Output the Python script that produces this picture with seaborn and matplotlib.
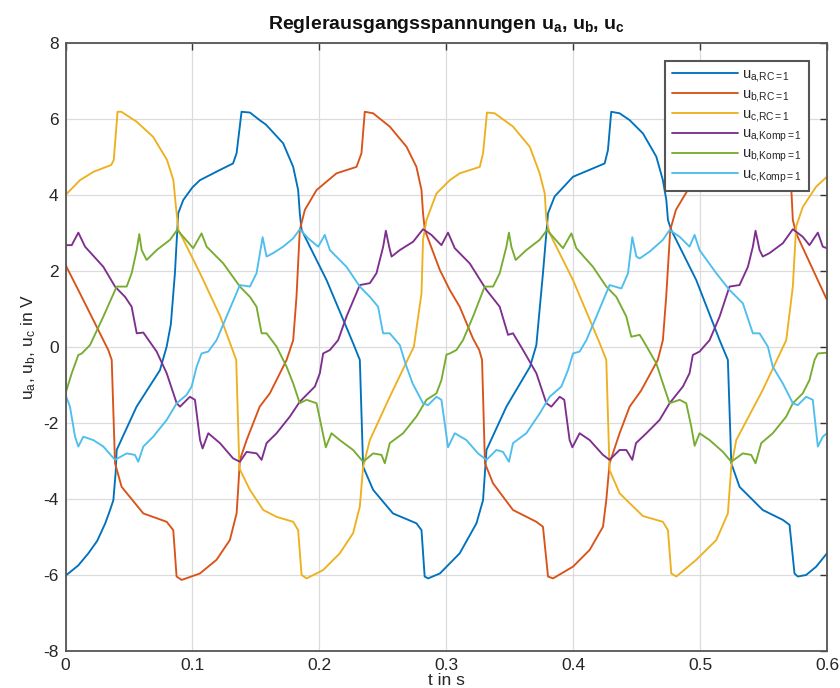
import numpy as np
import pandas as pd
import matplotlib
matplotlib.use("Agg")
import matplotlib.pyplot as plt
import seaborn as sns

# ---------------- data ----------------
t_ua_rc = [0.0, 0.01, 0.018, 0.025, 0.0313, 0.035, 0.0377, 0.0395, 0.0403, 0.048, 0.056, 0.065, 0.0744,
           0.0797, 0.083, 0.0862, 0.0888, 0.0928, 0.1, 0.1059, 0.1217, 0.132, 0.1348, 0.1387, 0.1453, 0.153,
           0.158, 0.1715, 0.1794, 0.1833, 0.1846, 0.186, 0.2057, 0.2266, 0.2319, 0.2345, 0.2424, 0.258,
           0.2765, 0.2805, 0.283, 0.2857, 0.295, 0.3106, 0.3238, 0.329, 0.3317, 0.3474, 0.366, 0.371, 0.3762,
           0.3802, 0.3854, 0.3999, 0.4156, 0.4248, 0.4274, 0.43, 0.4366, 0.4445, 0.455, 0.4655, 0.4707,
           0.4734, 0.4747, 0.4773, 0.497, 0.5154, 0.5219, 0.5246, 0.5311, 0.5494, 0.5652, 0.5705, 0.5744,
           0.577, 0.5836, 0.5915, 0.6]
u_ua_rc = [-6.02, -5.75, -5.43, -5.1, -4.64, -4.3, -4.03, -3.3, -2.71, -2.15, -1.57, -1.1, -0.61,
           0.01, 0.6, 1.94, 3.52, 3.87, 4.2, 4.39, 4.66, 4.83, 5.1, 6.19, 6.17, 5.97,
           5.85, 5.36, 4.74, 4.13, 3.52, 3.08, 1.76, 0.1, -0.34, -3.15, -3.76, -4.38,
           -4.64, -4.82, -6.04, -6.09, -5.96, -5.43, -4.64, -4.03, -2.71, -1.57, -0.52, 0.05, 1.94,
           3.52, 3.96, 4.48, 4.7, 4.83, 5.18, 6.19, 6.15, 5.97, 5.62, 5.01, 4.39,
           3.87, 3.34, 3.08, 1.76, 0.18, -0.34, -3.06, -3.68, -4.29, -4.55, -4.68, -5.96,
           -6.04, -6.0, -5.78, -5.43]

t_ub_rc = [0.0, 0.0114, 0.0219, 0.0298, 0.0337, 0.0364, 0.039, 0.0442, 0.0613, 0.0797, 0.0849, 0.0875,
           0.0915, 0.1059, 0.119, 0.1295, 0.1348, 0.136, 0.1374, 0.1427, 0.153, 0.161, 0.1742, 0.1794,
           0.182, 0.1846, 0.1886, 0.1978, 0.2135, 0.2293, 0.2332, 0.2358, 0.2424, 0.2555, 0.2687, 0.2765,
           0.2805, 0.2817, 0.2831, 0.2949, 0.3028, 0.3106, 0.3211, 0.326, 0.3282, 0.3305, 0.3369, 0.3526,
           0.371, 0.3762, 0.3802, 0.3841, 0.3999, 0.413, 0.4235, 0.4261, 0.4287, 0.4366, 0.4445, 0.4535,
           0.4667, 0.4707, 0.4733, 0.4765, 0.481, 0.4903, 0.506, 0.5218, 0.5257, 0.5283, 0.535, 0.548,
           0.5612, 0.569, 0.5718, 0.5731, 0.5757, 0.5915, 0.6]
u_ub_rc = [2.16, 1.41, 0.71, 0.18, -0.08, -0.34, -3.06, -3.68, -4.38, -4.6, -4.82, -6.04,
           -6.13, -5.96, -5.6, -5.08, -4.38, -3.76, -2.97, -2.45, -1.57, -1.22, -0.34, 0.18,
           1.32, 3.08, 3.61, 4.13, 4.57, 4.74, 5.1, 6.19, 6.15, 5.8, 5.27, 4.74,
           4.13, 3.52, 3.08, 2.03, 1.5, 1.06, 0.22, -0.08, -0.34, -3.06, -3.59, -4.29,
           -4.6, -4.73, -6.04, -6.09, -5.78, -5.34, -4.73, -4.03, -3.06, -2.27, -1.57, -1.15,
           -0.34, 0.18, 1.32, 3.08, 3.61, 4.13, 4.57, 4.74, 5.1, 6.19, 6.15, 5.8,
           5.27, 4.74, 4.22, 3.34, 2.99, 1.85, 1.24]

t_uc_rc = [0.0, 0.0114, 0.022, 0.036, 0.038, 0.041, 0.044, 0.056, 0.069, 0.08, 0.085, 0.087, 0.089,
           0.106, 0.122, 0.128, 0.1345, 0.137, 0.1453, 0.1558, 0.1663, 0.1794, 0.1833, 0.186, 0.1899,
           0.203, 0.2161, 0.2266, 0.2319, 0.2345, 0.2398, 0.2555, 0.2745, 0.2805, 0.2817, 0.2844, 0.2923,
           0.3028, 0.3106, 0.3264, 0.329, 0.3321, 0.3382, 0.3526, 0.3658, 0.3736, 0.3776, 0.3789, 0.3815,
           0.3999, 0.4209, 0.4261, 0.4287, 0.4366, 0.4445, 0.455, 0.4707, 0.4747, 0.4773, 0.4813, 0.497,
           0.5128, 0.5219, 0.5246, 0.5285, 0.5494, 0.5679, 0.5731, 0.5757, 0.581, 0.5915, 0.6]
u_uc_rc = [4.0, 4.39, 4.61, 4.79, 4.92, 6.19, 6.19, 5.93, 5.53, 4.92, 4.39, 3.69, 3.08,
           1.94, 0.8, 0.25, -0.34, -3.2, -3.76, -4.29, -4.47, -4.6, -4.82, -6.0, -6.09,
           -5.87, -5.43, -4.9, -4.2, -3.15, -2.45, -1.31, 0.01, 1.41, 2.82, 3.34, 4.04,
           4.39, 4.57, 4.74, 5.1, 6.17, 6.15, 5.8, 5.27, 4.57, 4.04, 3.34, 2.99,
           1.76, 0.1, -0.34, -3.24, -3.85, -4.11, -4.45, -4.6, -4.82, -5.96, -6.04, -5.6,
           -5.08, -4.38, -3.15, -2.45, -1.13, 0.18, 1.59, 3.17, 3.69, 4.22, 4.48]

t_ua_k = [0.0, 0.0049, 0.0101, 0.0154, 0.0298, 0.039, 0.0469, 0.0521, 0.0561, 0.0613, 0.0718, 0.0797,
          0.0876, 0.0902, 0.098, 0.102, 0.106, 0.108, 0.1125, 0.1217, 0.132, 0.1374, 0.1427, 0.1506,
          0.1545, 0.1584, 0.1663, 0.1768, 0.1846, 0.1965, 0.2004, 0.203, 0.2083, 0.2148, 0.2214, 0.2319,
          0.2398, 0.245, 0.2503, 0.2524, 0.255, 0.2569, 0.2634, 0.2739, 0.2817, 0.2883, 0.2962, 0.3014,
          0.3067, 0.3185, 0.3317, 0.3421, 0.3487, 0.3526, 0.3605, 0.371, 0.3789, 0.3828, 0.3894, 0.393,
          0.3972, 0.3994, 0.4051, 0.413, 0.4235, 0.4287, 0.4366, 0.4419, 0.4466, 0.4495, 0.4577, 0.4681,
          0.476, 0.4865, 0.4917, 0.4943, 0.4996, 0.5075, 0.5154, 0.5232, 0.5311, 0.5377, 0.5416, 0.5437,
          0.5469, 0.5494, 0.5547, 0.5652, 0.5731, 0.5809, 0.5862, 0.5928, 0.5967, 0.6]
u_ua_k = [2.68, 2.68, 3.01, 2.64, 2.11, 1.59, 1.32, 1.06, 0.36, 0.38, -0.12, -0.69,
          -1.48, -1.57, -1.31, -1.39, -2.45, -2.67, -2.27, -2.53, -2.93, -3.02, -2.76, -2.8,
          -2.97, -2.53, -2.27, -1.83, -1.44, -1.04, -0.69, -0.17, -0.08, 0.18, 0.8, 1.63,
          1.68, 1.94, 2.64, 3.06, 2.64, 2.38, 2.55, 2.77, 3.1, 2.95, 2.68, 3.01,
          2.6, 2.2, 1.5, 1.06, 0.32, 0.36, -0.08, -0.69, -1.48, -1.57, -1.31, -1.39,
          -2.45, -2.64, -2.27, -2.45, -2.84, -2.97, -2.71, -2.71, -2.97, -2.53, -2.27, -1.92,
          -1.48, -1.04, -0.69, -0.21, -0.12, 0.18, 0.8, 1.59, 1.63, 2.11, 2.64, 3.06,
          2.55, 2.38, 2.47, 2.73, 3.1, 2.9, 2.68, 3.01, 2.64, 2.6]

t_ub_k = [0.0, 0.0049, 0.0101, 0.0128, 0.0193, 0.0298, 0.0403, 0.0482, 0.0521, 0.0561, 0.0581, 0.06,
          0.0639, 0.0718, 0.0823, 0.088, 0.0928, 0.1006, 0.1072, 0.1112, 0.1243, 0.1374, 0.1453, 0.1505,
          0.1545, 0.1584, 0.1663, 0.1742, 0.1794, 0.1846, 0.1899, 0.1978, 0.2017, 0.2051, 0.2096, 0.2161,
          0.2266, 0.2345, 0.2424, 0.249, 0.2516, 0.2555, 0.266, 0.2765, 0.2844, 0.2923, 0.2962, 0.3002,
          0.3028, 0.308, 0.3132, 0.3211, 0.3303, 0.3369, 0.3421, 0.3474, 0.3494, 0.3513, 0.3547, 0.3631,
          0.3736, 0.3794, 0.3841, 0.392, 0.3986, 0.4025, 0.4156, 0.4261, 0.434, 0.4419, 0.4458, 0.4524,
          0.455, 0.4655, 0.4707, 0.476, 0.4839, 0.4891, 0.4931, 0.4957, 0.4996, 0.5075, 0.518, 0.5246,
          0.5337, 0.5403, 0.5437, 0.5482, 0.5573, 0.5679, 0.5731, 0.5809, 0.5862, 0.5902, 0.5928, 0.6]
u_ub_k = [-1.22, -0.69, -0.21, -0.17, 0.05, 0.8, 1.59, 1.59, 1.94, 2.55, 2.97, 2.55,
          2.29, 2.55, 2.82, 3.08, 2.9, 2.6, 2.99, 2.64, 2.2, 1.59, 1.32, 1.06,
          0.36, 0.36, 0.01, -0.52, -0.96, -1.48, -1.39, -1.48, -2.1, -2.64, -2.27, -2.45,
          -2.71, -3.02, -2.8, -2.84, -3.06, -2.53, -2.27, -1.83, -1.39, -1.22, -0.87, -0.2,
          -0.17, -0.08, 0.18, 0.8, 1.59, 1.59, 1.94, 2.64, 3.01, 2.64, 2.29, 2.55,
          2.82, 3.08, 2.9, 2.6, 2.99, 2.6, 2.11, 1.59, 1.32, 0.8, 0.27, 0.32,
          0.18, -0.43, -0.96, -1.48, -1.39, -1.48, -2.1, -2.6, -2.27, -2.45, -2.76, -3.02,
          -2.8, -2.84, -3.06, -2.53, -2.27, -1.83, -1.48, -1.22, -0.87, -0.34, -0.17, -0.15]

t_uc_k = [0.0, 0.0035, 0.0075, 0.0101, 0.014, 0.0219, 0.0298, 0.039, 0.0482, 0.0547, 0.0573, 0.0613,
          0.0691, 0.0797, 0.0876, 0.0954, 0.0994, 0.1033, 0.1072, 0.1125, 0.119, 0.1269, 0.1374, 0.1453,
          0.1505, 0.1532, 0.1553, 0.1584, 0.1636, 0.1715, 0.1794, 0.1846, 0.1912, 0.1991, 0.2043, 0.2083,
          0.2214, 0.2319, 0.2398, 0.2463, 0.2502, 0.2555, 0.2634, 0.268, 0.2735, 0.2817, 0.2857, 0.2923,
          0.2962, 0.2988, 0.3014, 0.3067, 0.3159, 0.325, 0.3317, 0.3395, 0.3447, 0.3494, 0.3526, 0.3631,
          0.3736, 0.3815, 0.3907, 0.3959, 0.3999, 0.4051, 0.4104, 0.4183, 0.4287, 0.438, 0.4432, 0.4466,
          0.4498, 0.4524, 0.4603, 0.4707, 0.476, 0.4839, 0.4917, 0.4957, 0.4996, 0.5128, 0.5232, 0.5337,
          0.5416, 0.5469, 0.5534, 0.5573, 0.5652, 0.5731, 0.577, 0.5836, 0.5888, 0.5928, 0.5967, 0.6]
u_uc_k = [-1.26, -1.57, -2.36, -2.62, -2.36, -2.45, -2.62, -2.97, -2.8, -2.84, -3.02, -2.62,
          -2.36, -1.92, -1.48, -1.26, -1.04, -0.52, -0.17, -0.12, 0.18, 0.8, 1.63, 1.59,
          1.94, 2.47, 2.89, 2.38, 2.47, 2.64, 2.86, 3.1, 2.86, 2.64, 2.95, 2.55,
          2.11, 1.59, 1.32, 1.06, 0.36, 0.36, 0.05, -0.45, -0.96, -1.48, -1.53, -1.31,
          -1.39, -2.01, -2.64, -2.27, -2.45, -2.8, -2.97, -2.71, -2.76, -3.02, -2.53, -2.27,
          -1.75, -1.31, -1.04, -0.61, -0.17, -0.12, 0.18, 0.8, 1.63, 1.54, 1.94, 2.89,
          2.38, 2.33, 2.51, 2.82, 3.08, 2.9, 2.64, 2.95, 2.55, 1.94, 1.5, 1.15,
          0.36, 0.36, 0.01, -0.52, -0.96, -1.48, -1.53, -1.31, -1.39, -2.62, -2.36, -2.27]

series_labels = [r"$u_{a{,}RC{=}1}$", r"$u_{b{,}RC{=}1}$", r"$u_{c{,}RC{=}1}$",
                 r"$u_{a{,}Komp{=}1}$", r"$u_{b{,}Komp{=}1}$", r"$u_{c{,}Komp{=}1}$"]
series_colors = ["#0072BD", "#D95319", "#EDB120", "#7E2F8E", "#77AC30", "#4DBEEE"]
x_ticks = [0.0, 0.1, 0.2, 0.3, 0.4, 0.5, 0.6]
x_tick_labels = ["0", "0.1", "0.2", "0.3", "0.4", "0.5", "0.6"]
y_ticks = [-8, -6, -4, -2, 0, 2, 4, 6, 8]

# ---------------- style ----------------
sns.set_style("whitegrid")
plt.rcParams["font.family"] = ["Liberation Sans", "DejaVu Sans"]
plt.rcParams["mathtext.fontset"] = "custom"
plt.rcParams["mathtext.rm"] = "Liberation Sans"
plt.rcParams["mathtext.it"] = "Liberation Sans:italic"
plt.rcParams["mathtext.bf"] = "Liberation Sans:bold"
plt.rcParams["mathtext.sf"] = "Liberation Sans"
plt.rcParams["mathtext.default"] = "regular"

all_t = [t_ua_rc, t_ub_rc, t_uc_rc, t_ua_k, t_ub_k, t_uc_k]
all_u = [u_ua_rc, u_ub_rc, u_uc_rc, u_ua_k, u_ub_k, u_uc_k]
frames = []
for lab, tt, uu in zip(series_labels, all_t, all_u):
    frames.append(pd.DataFrame({"t": tt, "u": uu, "Signal": lab}))
df = pd.concat(frames, ignore_index=True)

fig = plt.figure(figsize=(8.4, 6.88), dpi=100)
ax = fig.add_axes([0.078, 0.0538, 0.9065, 0.8837])

sns.lineplot(data=df, x="t", y="u", hue="Signal", hue_order=series_labels,
             palette=dict(zip(series_labels, series_colors)), estimator=None,
             sort=False, linewidth=1.35, ax=ax)

ax.set_xlim(0, 0.6)
ax.set_ylim(-8, 8)
ax.set_xticks(x_ticks)
ax.set_xticklabels(x_tick_labels)
ax.set_yticks(y_ticks)
ax.set_yticklabels([str(v) for v in y_ticks])

ax.grid(True, color="#dcdcdc", linewidth=0.9)
ax.set_facecolor("white")
for s in ax.spines.values():
    s.set_color("#555555")
    s.set_linewidth(1.3)
ax.tick_params(direction="in", top=True, right=True, length=5, width=1.0,
               color="#333333", labelsize=11.5, labelcolor="#262626", pad=5)
for lbl in ax.get_xticklabels() + ax.get_yticklabels():
    lbl.set_family(["Liberation Sans Narrow", "Liberation Sans"])
    lbl.set_fontsize(12.5)

ax.set_title(r"Reglerausgangsspannungen $\mathbf{u_a}$, $\mathbf{u_b}$, $\mathbf{u_c}$",
             fontsize=14, fontweight="bold", pad=10, color="#111111")
ax.set_xlabel("t in s", fontsize=12.5, color="#262626", labelpad=0)
ax.set_ylabel(r"$u_a$, $u_b$, $u_c$ in V", fontsize=12.5, color="#262626", labelpad=4)

handles, labels = ax.get_legend_handles_labels()
leg = ax.legend(handles, labels, loc="upper right", bbox_to_anchor=(0.976, 0.971),
                borderaxespad=0, fontsize=10.5, handlelength=4.5, labelspacing=0.2,
                fancybox=False, framealpha=1, edgecolor="#555555", borderpad=0.45,
                handletextpad=0.3)
leg.get_frame().set_linewidth(1.5)

fig.savefig("out.png", dpi=100)
